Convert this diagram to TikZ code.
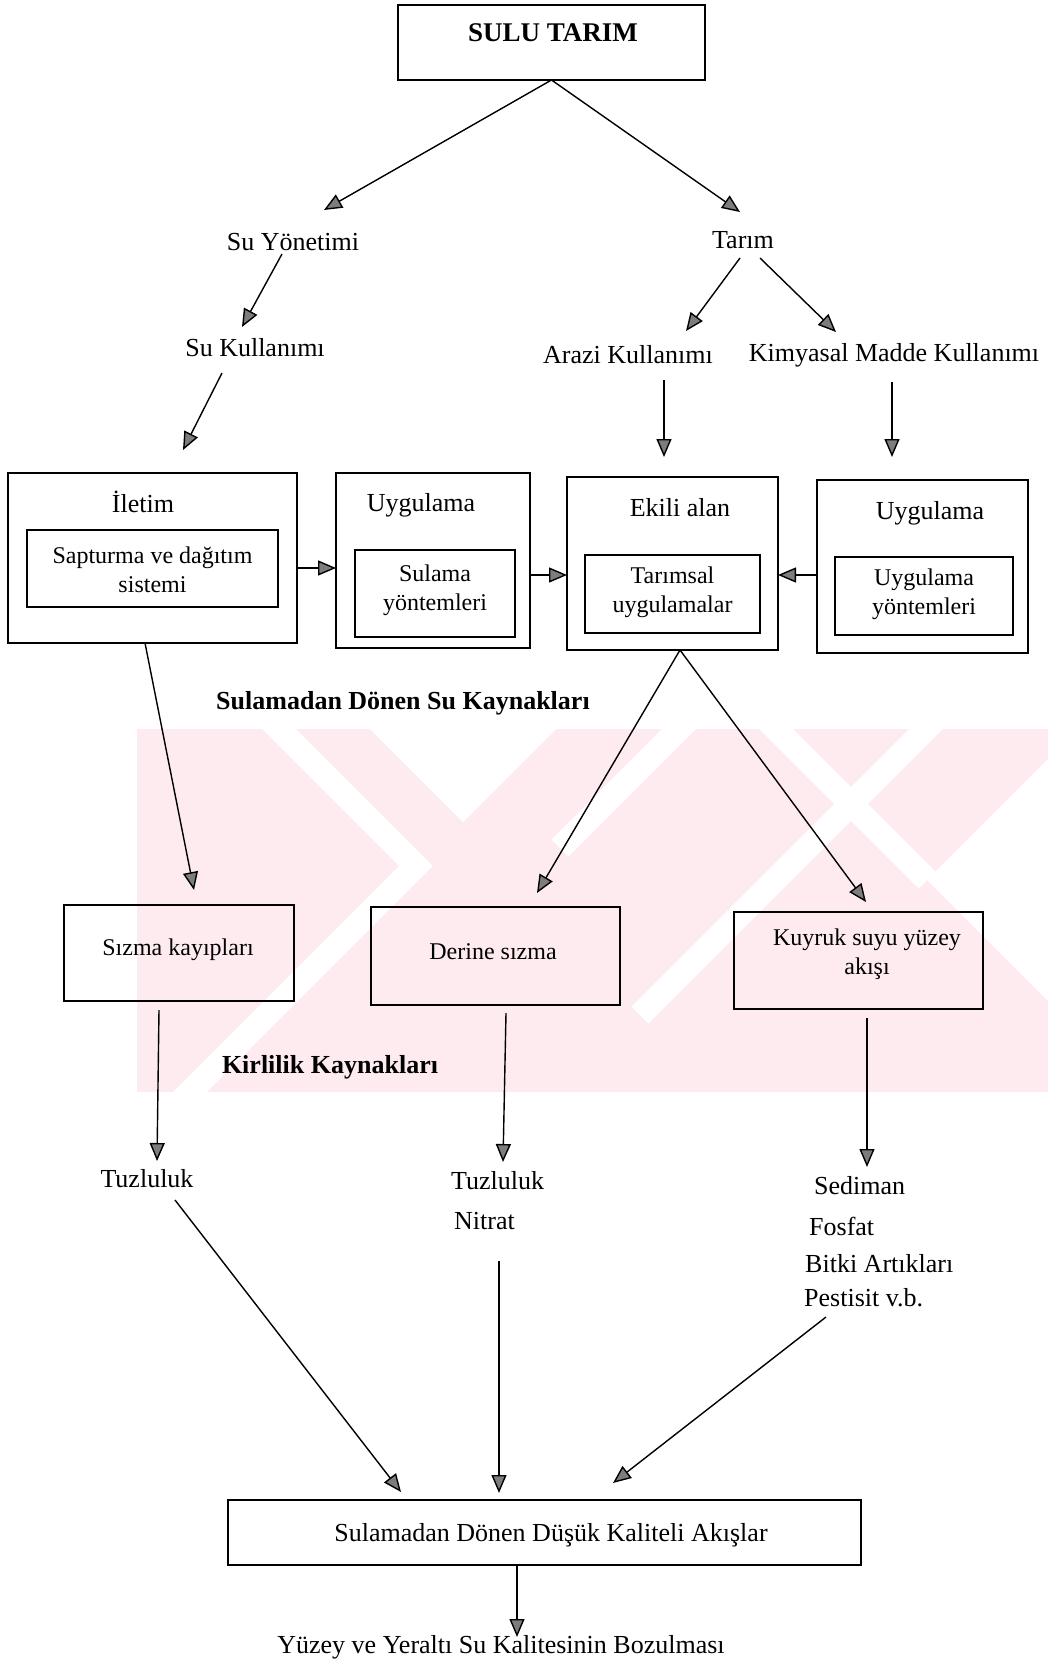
\documentclass[tikz,border=0pt]{standalone}
\usepackage{fontspec}
\setmainfont{Liberation Serif}
\usetikzlibrary{arrows.meta}
\definecolor{wmpink}{RGB}{253,235,240}
\definecolor{tipgray}{RGB}{125,125,125}
\tikzset{
  box/.style={draw, line width=1.6pt, inner sep=0pt, outer sep=0pt},
  lbl/.style={font=\fontsize{26}{30}\selectfont, inner sep=1pt},
  btxt/.style={font=\fontsize{24}{29}\selectfont, align=center, inner sep=0pt},
  hd/.style={font=\bfseries\fontsize{26}{30}\selectfont, inner sep=1pt},
  arr/.style={line width=1.4pt, -{Triangle[length=18pt,width=15pt,fill=tipgray]}},
  wmgap/.style={white, line width=24pt, line cap=butt},
}
\begin{document}
\begin{tikzpicture}[x=1pt,y=-1pt]
\useasboundingbox (0,0) rectangle (1048,1665);

% watermark
\begin{scope}
  \clip (137,729) rectangle (1048,1092);
  \fill[wmpink] (137,729) rectangle (1048,1092);
  \fill[white] (370,729) -- (463,822) -- (556,729) -- cycle;
  \draw[wmgap] (258,708) -- (416,866) -- (170,1112);
  \draw[wmgap] (700,708) -- (560,848);
  \draw[wmgap] (947,708) -- (640,1015);
  \draw[wmgap] (755,708) -- (927,880);
  \fill[white] (1048,759) -- (927,880) -- (1048,1001) -- cycle;
\end{scope}

% boxes
\node[box, minimum width=307pt, minimum height=75pt] (sulu) at (551.5,42.5) {};
\node[box, minimum width=289pt, minimum height=170pt] (iletim) at (152.5,558) {};
\node[box, minimum width=251pt, minimum height=77pt] (iletimin) at (152.5,568.5) {};
\node[box, minimum width=194pt, minimum height=175pt] (uyg1) at (433,560.5) {};
\node[box, minimum width=160pt, minimum height=87pt] (uyg1in) at (435,593.5) {};
\node[box, minimum width=211pt, minimum height=173pt] (ekili) at (672.5,563.5) {};
\node[box, minimum width=175pt, minimum height=78pt] (ekiliin) at (672.5,594) {};
\node[box, minimum width=211pt, minimum height=173pt] (uyg2) at (922.5,566.5) {};
\node[box, minimum width=178pt, minimum height=78pt] (uyg2in) at (924,596) {};
\node[box, minimum width=230pt, minimum height=96pt] (sizma) at (179,953) {};
\node[box, minimum width=249pt, minimum height=98pt] (derine) at (495.5,956) {};
\node[box, minimum width=249pt, minimum height=97pt] (kuyruk) at (858.5,960.5) {};
\node[box, minimum width=633pt, minimum height=65pt] (akis) at (544.5,1532.5) {};

% texts
\node[hd, font=\bfseries\fontsize{27}{30}\selectfont] (sulut) at (553,33) {SULU TARIM};
\node[lbl] (suy) at (293,242) {Su Yönetimi};
\node[lbl] (suk) at (255,348) {Su Kullanımı};
\node[lbl] (tarim) at (743,240) {Tarım};
\node[lbl] (arazi) at (628,355) {Arazi Kullanımı};
\node[lbl] (kimya) at (894,355) {Kimyasal Madde Kullanımı};

\node[lbl] (iletimt) at (143,502) {İletim};
\node[btxt] (iletimint) at (152.5,570) {Sapturma ve dağıtım\\sistemi};
\node[lbl] (uyg1t) at (421,505) {Uygulama};
\node[btxt] (uyg1int) at (435,590) {Sulama\\yöntemleri};
\node[lbl] (ekilit) at (680,508) {Ekili alan};
\node[btxt] (ekiliint) at (672.5,592) {Tarımsal\\uygulamalar};
\node[lbl] (uyg2t) at (930,513) {Uygulama};
\node[btxt] (uyg2int) at (924,594) {Uygulama\\yöntemleri};

\node[hd] (sdsk) at (403,703) {Sulamadan Dönen Su Kaynakları};
\node[btxt] (sizmat) at (178,950) {Sızma kayıpları};
\node[btxt] (derinet) at (493,952) {Derine sızma};
\node[btxt] (kuyrukt) at (867,954) {Kuyruk suyu yüzey\\akışı};
\node[hd] (kirl) at (330,1067) {Kirlilik Kaynakları};

\node[lbl] (tuz1) at (147,1179) {Tuzluluk};
\node[lbl, anchor=west] (tuz2) at (450,1181) {Tuzluluk};
\node[lbl, anchor=west] (nitrat) at (453,1221) {Nitrat};
\node[lbl, anchor=west] (sedi) at (813,1186) {Sediman};
\node[lbl, anchor=west] (fosfat) at (808,1226) {Fosfat};
\node[lbl, anchor=west] (bitki) at (804,1264) {Bitki Artıkları};
\node[lbl, anchor=west] (pest) at (803,1298) {Pestisit v.b.};

\node[lbl] (akist) at (551,1535) {Sulamadan Dönen Düşük Kaliteli Akışlar};
\node[lbl] (bozul) at (501,1647) {Yüzey ve Yeraltı Su Kalitesinin Bozulması};

% coordinates for free ends
\coordinate (t1) at (324,210);
\coordinate (t2) at (740,212);
\coordinate (s3) at (282,254);
\coordinate (t3) at (242,327);
\coordinate (s4) at (222,373);
\coordinate (t4) at (183,450);
\coordinate (s5) at (740,258);
\coordinate (t5) at (686,331);
\coordinate (s6) at (760,258);
\coordinate (t6) at (836,332);
\coordinate (s7) at (664,380);
\coordinate (t7) at (664,457);
\coordinate (s8) at (892,382);
\coordinate (t8) at (892,457);
\coordinate (s12) at (145,643);
\coordinate (t12) at (194,890);
\coordinate (s13) at (680,650);
\coordinate (t13) at (537,893);
\coordinate (t14) at (866,902);
\coordinate (s15) at (159,1010);
\coordinate (t15) at (157,1161);
\coordinate (s16) at (506,1013);
\coordinate (t16) at (503,1162);
\coordinate (s17) at (867,1018);
\coordinate (t17) at (867,1167);
\coordinate (s18) at (175,1200);
\coordinate (t18) at (401,1492);
\coordinate (s19) at (499,1261);
\coordinate (t19) at (499,1493);
\coordinate (s20) at (826,1317);
\coordinate (t20) at (613,1483);
\coordinate (t21) at (517,1637);

% connectors
\draw[arr] (sulu.south) -- (t1);
\draw[arr] (sulu.south) -- (t2);
\draw[arr] (s3) -- (t3);
\draw[arr] (s4) -- (t4);
\draw[arr] (s5) -- (t5);
\draw[arr] (s6) -- (t6);
\draw[arr] (s7) -- (t7);
\draw[arr] (s8) -- (t8);
\draw[arr] ([yshift=-10pt]iletim.east) -- ([yshift=-7.5pt]uyg1.west);
\draw[arr] ([yshift=-14.5pt]uyg1.east) -- ([yshift=-11.5pt]ekili.west);
\draw[arr] ([yshift=-8.5pt]uyg2.west) -- ([yshift=-11.5pt]ekili.east);
\draw[arr] (s12) -- (t12);
\draw[arr] (s13) -- (t13);
\draw[arr] (s13) -- (t14);
\draw[arr] (s15) -- (t15);
\draw[arr] (s16) -- (t16);
\draw[arr] (s17) -- (t17);
\draw[arr] (s18) -- (t18);
\draw[arr] (s19) -- (t19);
\draw[arr] (s20) -- (t20);
\draw[arr] ([xshift=-27.5pt]akis.south) -- (t21);
\end{tikzpicture}
\end{document}
